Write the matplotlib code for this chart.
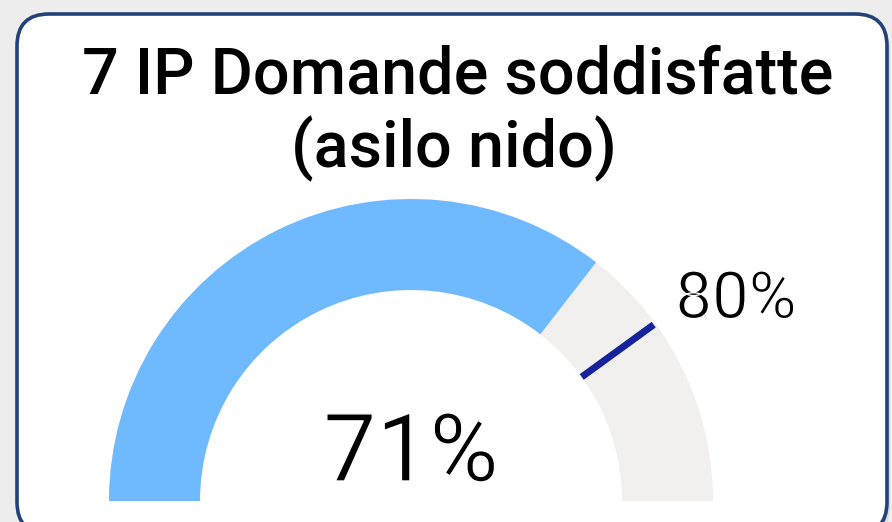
import matplotlib.pyplot as plt
import matplotlib.patches as mpatches
import matplotlib.patheffects as pe
import numpy as np

# gauge values (percent)
value = 71
target = 80
gauge_min = 0
gauge_max = 100

title_lines = ["7 IP Domande soddisfatte", "(asilo nido)"]

BLUE = "#6FBAFF"
TRACK = "#F1F0EF"
TARGET = "#17239D"
BORDER = "#22417A"

W, H = 892, 522
fig = plt.figure(figsize=(W / 100, H / 100), dpi=100, facecolor="#EDEDED")
ax = fig.add_axes([0, 0, 1, 1])
ax.set_xlim(0, W)
ax.set_ylim(H, 0)
ax.set_aspect("equal")
ax.axis("off")

# card with soft shadow
ax.add_patch(mpatches.FancyBboxPatch(
    (20, 17), 870, 520, boxstyle="round,pad=0,rounding_size=32",
    facecolor="#C8C8C8", edgecolor="none", alpha=0.5, zorder=0))
ax.add_patch(mpatches.FancyBboxPatch(
    (17, 14), 870, 520, boxstyle="round,pad=0,rounding_size=32",
    facecolor="white", edgecolor=BORDER, linewidth=2.6, zorder=1))

ax.text(458, 93, title_lines[0], ha="center", va="baseline",
        fontfamily="Roboto", fontsize=46.5, fontweight="medium", color="black", zorder=3)
ax.text(454, 167, title_lines[1], ha="center", va="baseline",
        fontfamily="Roboto", fontsize=46.5, fontweight="medium", color="black", zorder=3)

# gauge geometry (y axis points down, so angles are mirrored)
cx, cy = 411, 501
r_out, r_in = 302, 211


def to_angle(v):
    return 180 * (v - gauge_min) / (gauge_max - gauge_min)


a_val = to_angle(value)
ax.add_patch(mpatches.Wedge((cx, cy), r_out, 180, 360, width=r_out - r_in,
                            facecolor=TRACK, edgecolor="none", zorder=2))
ax.add_patch(mpatches.Wedge((cx, cy), r_out, 180, 180 + a_val, width=r_out - r_in,
                            facecolor=BLUE, edgecolor="none", zorder=2))

# target marker across the band
t = np.deg2rad(180 - to_angle(target))
ax.plot([cx + r_in * np.cos(t), cx + 300 * np.cos(t)],
        [cy - r_in * np.sin(t), cy - 300 * np.sin(t)],
        color=TARGET, linewidth=5, solid_capstyle="butt", zorder=3)

# regular weight, slightly thinned with a white outline
thin = [pe.Normal(), pe.Stroke(linewidth=1.0, foreground="white")]
ax.text(736, 318, f"{target}%", ha="center", va="baseline",
        fontfamily="Roboto", fontsize=47, fontweight="normal", color="black",
        path_effects=thin, zorder=3)
ax.text(411, 481, f"{value}%", ha="center", va="baseline",
        fontfamily="Roboto", fontsize=68, fontweight="normal", color="black",
        path_effects=thin, zorder=3)

fig.savefig("out.png", dpi=100, facecolor=fig.get_facecolor())
